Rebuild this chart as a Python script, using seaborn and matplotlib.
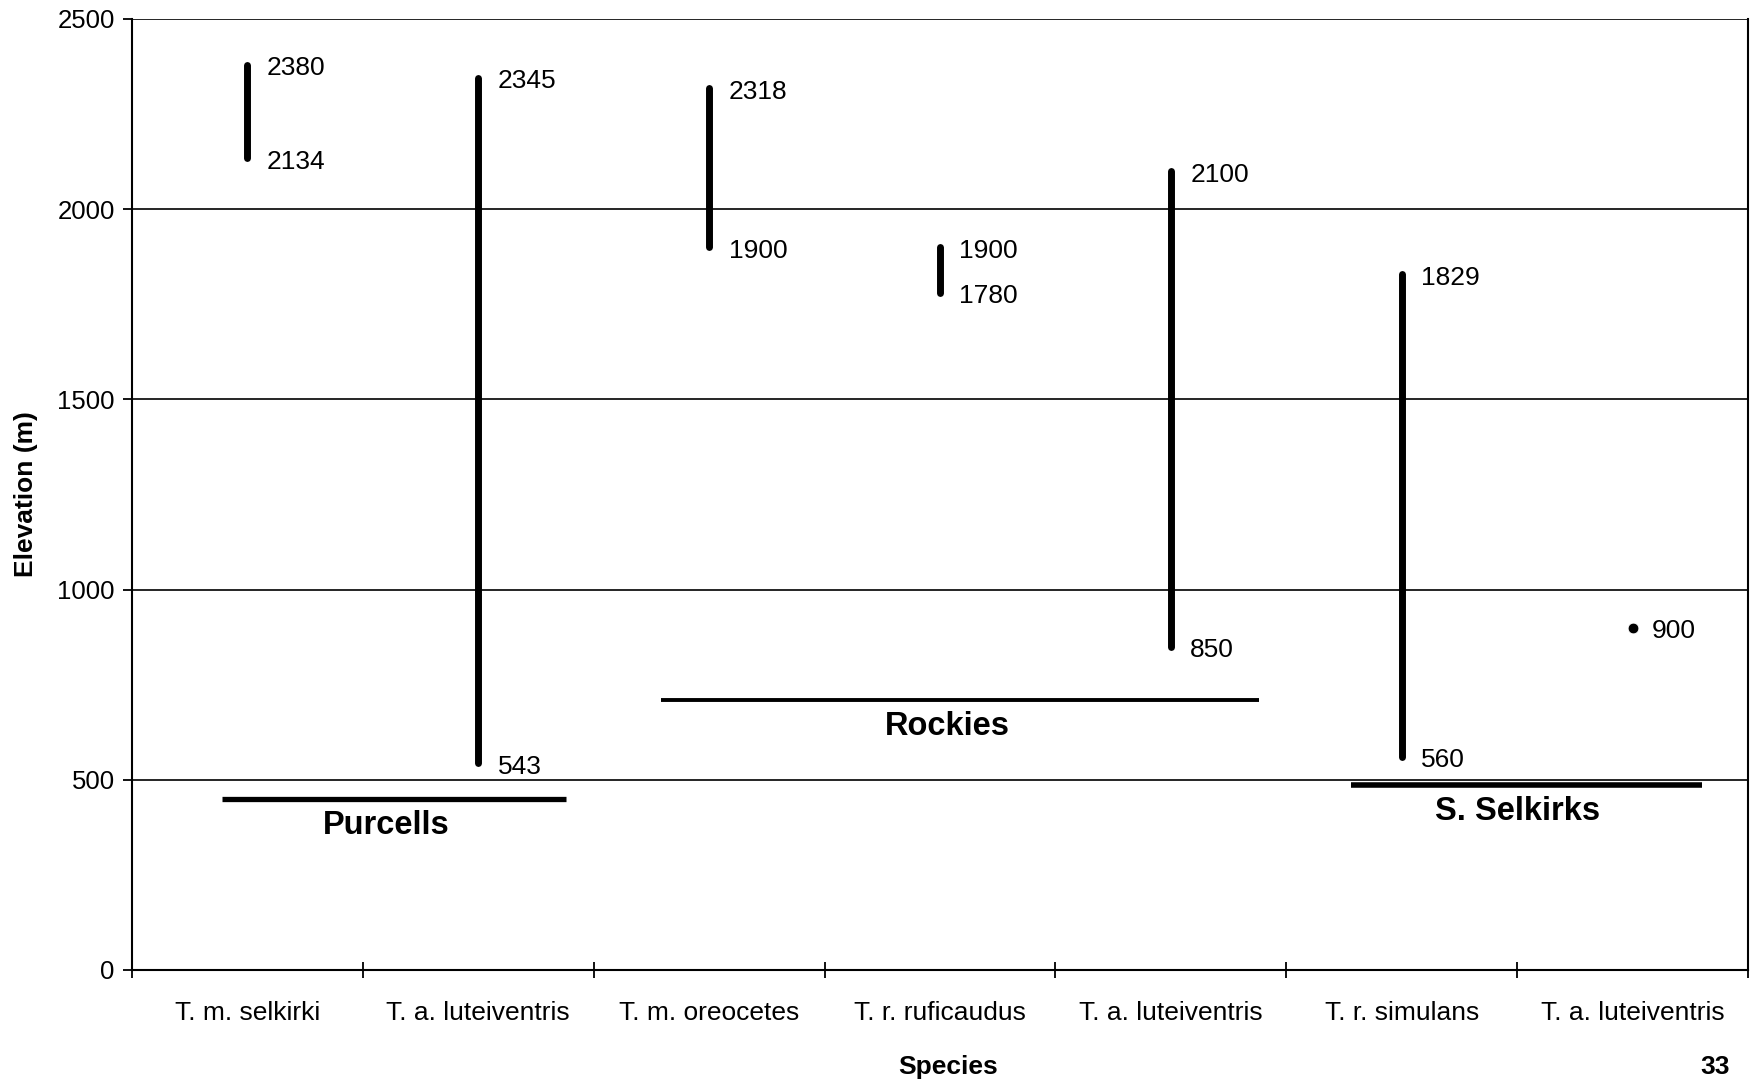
import seaborn as sns
import matplotlib.pyplot as plt
import pandas as pd

# Elevation ranges per species (m)
species = ["T. m. selkirki", "T. a. luteiventris", "T. m. oreocetes", "T. r. ruficaudus",
           "T. a. luteiventris", "T. r. simulans", "T. a. luteiventris"]
low = [2134, 543, 1900, 1780, 850, 560, 900]
high = [2380, 2345, 2318, 1900, 2100, 1829, 900]

# mountain ranges: name, start, end (category positions), line elevation, label elevation
ranges = ["Purcells", "Rockies", "S. Selkirks"]
range_start = [-0.11, 1.79, 4.78]
range_end = [1.38, 4.38, 6.30]
range_elev = [450, 710, 485]
range_width = [3.8, 2.8, 4.0]
label_x = [0.6, 3.03, 5.5]
label_elev = [380, 640, 417]

df = pd.DataFrame({"pos": range(len(species)), "species": species, "low": low, "high": high})

sns.set_style("white", {"text.color": "black", "axes.labelcolor": "black",
                        "xtick.color": "black", "ytick.color": "black"})
plt.rcParams["font.family"] = ["Liberation Sans", "DejaVu Sans"]

fig = plt.figure(figsize=(17.58, 10.85), dpi=100)
ax = fig.add_axes([0.0751, 0.106, 0.9192, 0.8765])

# vertical elevation ranges
ranged = df[df["low"] != df["high"]]
ax.vlines(ranged["pos"], ranged["low"], ranged["high"], color="black", lw=5, capstyle="round")
single = df[df["low"] == df["high"]]
sns.scatterplot(data=single, x="pos", y="low", color="black", s=60, ax=ax, legend=False, zorder=3)

for _, r in df.iterrows():
    vals = [r["low"]] if r["low"] == r["high"] else [r["low"], r["high"]]
    for v in vals:
        ax.annotate(str(v), (r["pos"], v), xytext=(14, -2.5), textcoords="offset points",
                    ha="left", va="center", fontsize=19)

for name, x0, x1, e, w, lx, le in zip(ranges, range_start, range_end, range_elev, range_width, label_x, label_elev):
    ax.hlines(e, x0, x1, color="black", lw=w)
    ax.text(lx, le, name, ha="center", va="center", fontsize=23.5, fontweight="bold")

ax.set_xlim(-0.5, 6.5)
ax.set_ylim(0, 2500)
ax.set_yticks(range(0, 2501, 500))
ax.yaxis.grid(True, color="black", lw=1.2)
ax.set_axisbelow(True)

ax.set_xticks([i - 0.5 for i in range(len(species) + 1)])
ax.set_xticklabels([])
ax.set_xticks(range(len(species)), minor=True)
ax.set_xticklabels(species, minor=True, fontsize=19)
ax.tick_params(axis="x", which="major", direction="inout", length=12, width=1.3, bottom=True)
ax.tick_params(axis="x", which="minor", length=0, pad=22)
ax.tick_params(axis="y", direction="out", length=6.5, width=1.3, left=True, labelsize=18.5, pad=6)

for s in ax.spines.values():
    s.set_color("black")
    s.set_linewidth(1.5)
ax.spines["top"].set_visible(False)

ax.set_xlabel("")
ax.set_ylabel("Elevation (m)", fontsize=19, fontweight="bold")
ax.yaxis.set_label_coords(-0.058, 0.5)
fig.text(948 / 1758, 1 - 1067 / 1085, "Species", ha="center", va="center", fontsize=19, fontweight="bold")
fig.text(1715 / 1758, 1 - 1067 / 1085, "33", ha="center", va="center", fontsize=19, fontweight="bold")

plt.savefig("out.png", dpi=100)
